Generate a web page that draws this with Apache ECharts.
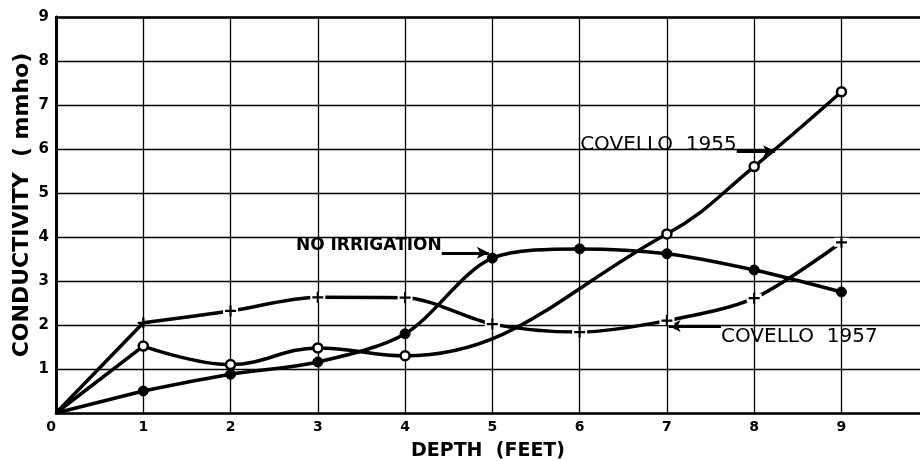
<!DOCTYPE html>
<html>
<head>
<meta charset="utf-8">
<script src="https://cdn.jsdelivr.net/npm/echarts@6/dist/echarts.min.js"></script>
<style>
html,body{margin:0;padding:0;background:#fff;}
#chart{width:920px;height:461px;}
</style>
</head>
<body>
<div id="chart"></div>
<script>
// ---- data ----
const depth = [0, 1, 2, 3, 4, 5, 6, 7, 8, 9];
const covello1955Depth = [0, 1, 2, 3, 4, 7, 8, 9];
const covello1955 = [0, 1.52, 1.1, 1.48, 1.3, 4.07, 5.6, 7.3];
const noIrrigation = [0, 0.5, 0.88, 1.16, 1.8, 3.52, 3.73, 3.62, 3.25, 2.75];
const covello1957 = [0, 2.05, 2.32, 2.63, 2.62, 2.02, 1.84, 2.1, 2.61, 3.88];
const xTickLabels = ['0', '1', '2', '3', '4', '5', '6', '7', '8', '9'];
const yTickLabels = ['', '1', '2', '3', '4', '5', '6', '7', '8', '9'];
const labelNoIrr = 'NO IRRIGATION';
const label1955 = 'COVELLO  1955';
const label1957 = 'COVELLO  1957';

const pairs = (xs, ys) => xs.map((x, i) => [x, ys[i]]);
const plusPath = 'path://M4,0h2v4h4v2h-4v4h-2v-4h-4v-2h4z';

const chart = echarts.init(document.getElementById('chart'), null, {renderer: 'canvas'});

const leader = (from, to, sym) => ({
  symbol: sym,
  symbolSize: [9, 12],
  silent: true,
  animation: false,
  label: {show: false},
  lineStyle: {color: '#000', width: 3, type: 'solid'},
  data: [[{coord: from}, {coord: to}]]
});
const textPoint = (coord, text, pos, weight, size) => ({
  silent: true,
  animation: false,
  symbol: 'circle',
  symbolSize: 0,
  data: [{coord: coord, value: text}],
  label: {
    show: true, position: pos, distance: 0,
    formatter: text,
    color: '#000', fontFamily: 'DejaVu Sans', fontWeight: weight, fontSize: size
  }
});

const d1955 = pairs(covello1955Depth, covello1955);
const dNoIrr = pairs(depth, noIrrigation);
const d1957 = pairs(depth, covello1957);
const LW = 3.5;
const XMAX = 9.9;

const straight = (data, name) => ({
  name: name, type: 'line', smooth: false, data: data.slice(0, 2),
  symbol: 'none', lineStyle: {color: '#000', width: LW}, z: 3
});

chart.setOption({
  animation: false,
  backgroundColor: '#fff',
  grid: {left: 56, top: 17, bottom: 48, right: 0, containLabel: false, outerBoundsMode: 'none'},
  xAxis: [{
    type: 'value', min: 0, max: XMAX, interval: 1,
    name: 'DEPTH  (FEET)', nameLocation: 'middle', nameGap: 29,
    nameTextStyle: {color: '#000', fontFamily: 'DejaVu Sans', fontWeight: 'bold', fontSize: 19},
    axisLine: {show: true, lineStyle: {color: '#000', width: 2.5}},
    axisTick: {show: false},
    axisLabel: {color: '#000', fontFamily: 'DejaVu Sans', fontWeight: 'bold', fontSize: 14, margin: 7,
      showMaxLabel: false, alignMinLabel: 'right',
      formatter: v => (xTickLabels[v] !== undefined ? xTickLabels[v] : '')},
    splitLine: {show: true, showMaxLine: false, lineStyle: {color: '#000', width: 1.3}}
  }, {
    type: 'value', min: 0, max: XMAX, interval: 1, position: 'top',
    axisLine: {show: true, onZero: false, lineStyle: {color: '#000', width: 2.5}},
    axisTick: {show: false}, axisLabel: {show: false}, splitLine: {show: false}
  }],
  yAxis: {
    type: 'value', min: 0, max: 9, interval: 1,
    name: 'CONDUCTIVITY  ( mmho)', nameLocation: 'middle', nameGap: 23, nameRotate: 90,
    nameMoveOverlap: false,
    nameTextStyle: {color: '#000', fontFamily: 'DejaVu Sans', fontWeight: 'bold', fontSize: 22,
      padding: [0, 0, 0, 20]},
    axisLine: {show: true, lineStyle: {color: '#000', width: 3}},
    axisTick: {show: false},
    axisLabel: {color: '#000', fontFamily: 'DejaVu Sans', fontWeight: 'bold', fontSize: 15, margin: 7,
      formatter: v => yTickLabels[v]},
    splitLine: {show: true, lineStyle: {color: '#000', width: 1.3}}
  },
  series: [
    straight(d1955, '1955 start'),
    {
      name: 'COVELLO 1955', type: 'line', smooth: 0.4,
      data: d1955.slice(1),
      symbol: 'circle', symbolSize: 9,
      itemStyle: {color: '#fff', borderColor: '#000', borderWidth: 2.5},
      lineStyle: {color: '#000', width: LW},
      markLine: leader([7.8, 5.95], [8.24, 5.95], ['none', 'arrow']),
      markPoint: textPoint([7.8, 6.1], label1955, 'left', 'normal', 20),
      z: 4
    },
    straight(dNoIrr, 'no irrigation start'),
    {
      name: 'NO IRRIGATION', type: 'line', smooth: 0.3,
      data: dNoIrr.slice(1),
      symbol: 'circle', symbolSize: 10,
      itemStyle: {color: '#000', borderColor: '#000'},
      lineStyle: {color: '#000', width: LW},
      markLine: leader([4.42, 3.64], [4.96, 3.64], ['none', 'arrow']),
      markPoint: textPoint([4.42, 3.8], labelNoIrr, 'left', 'bold', 17),
      z: 4
    },
    straight(d1957, '1957 start'),
    {
      name: 'COVELLO 1957', type: 'line', smooth: 0.3,
      data: d1957.slice(1),
      symbol: 'none',
      lineStyle: {color: '#000', width: LW},
      markLine: leader([7.62, 1.98], [7.02, 1.98], ['none', 'arrow']),
      markPoint: textPoint([7.62, 1.74], label1957, 'right', 'normal', 20),
      z: 3
    },
    {
      // white breaks in the line around each "+" marker
      name: 'breaks', type: 'line', data: d1957.slice(2),
      symbol: 'rect', symbolSize: [15, 9], showAllSymbol: true,
      itemStyle: {color: '#fff', borderWidth: 0},
      lineStyle: {opacity: 0}, silent: true, z: 5
    },
    {
      name: 'COVELLO 1957 markers', type: 'line', data: d1957.slice(1),
      symbol: plusPath, symbolSize: 11, showAllSymbol: true,
      itemStyle: {color: '#000'},
      lineStyle: {opacity: 0}, silent: true, z: 6
    }
  ]
});
</script>
</body>
</html>
